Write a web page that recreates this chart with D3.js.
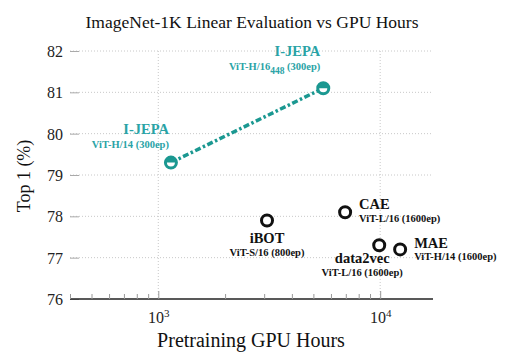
<!DOCTYPE html>
<html><head><meta charset="utf-8">
<script src="https://cdn.jsdelivr.net/npm/d3@7"></script>
<style>
body{margin:0;background:#fff;}
text{font-family:"Liberation Serif","Times New Roman",serif;}
</style></head>
<body><div id="chart"></div>
<script>
const methods = ["I-JEPA", "I-JEPA", "iBOT", "CAE", "data2vec", "MAE"];
const archs = ["ViT-H/14 (300ep)", "ViT-H/16|448| (300ep)", "ViT-S/16 (800ep)", "ViT-L/16 (1600ep)", "ViT-L/16 (1600ep)", "ViT-H/14 (1600ep)"];
const gpuHours = [1140, 5540, 3090, 6950, 9900, 12300];
const top1 = [79.3, 81.1, 77.9, 78.1, 77.3, 77.2];
const isOurs = [true, true, false, false, false, false];
const yTicks = [76, 77, 78, 79, 80, 81, 82];
const xMajor = [1000, 10000];
const xMinor = [400,500,600,700,800,900,2000,3000,4000,5000,6000,7000,8000,9000];

const W = 511, H = 360;
const teal = "#1b9891", tealText = "#2aa3a6";
const svg = d3.select("#chart").append("svg").attr("width", W).attr("height", H);

const x = d3.scaleLog().domain([400, 17300]).range([70, 433]);
const y = d3.scaleLinear().domain([76, 82]).range([299, 51]);

// grid
svg.append("g").selectAll("line").data(yTicks.slice(1)).join("line")
  .attr("x1", 70).attr("x2", 433).attr("y1", d => y(d)).attr("y2", d => y(d))
  .attr("stroke", "#c8c8c8").attr("stroke-width", 1).attr("stroke-dasharray", "1,2");
svg.append("g").selectAll("line").data(xMajor).join("line")
  .attr("x1", d => x(d)).attr("x2", d => x(d)).attr("y1", 51).attr("y2", 299)
  .attr("stroke", "#c8c8c8").attr("stroke-width", 1).attr("stroke-dasharray", "1,2");

// y axis
const yAxis = d3.axisLeft(y).tickValues(yTicks).tickSize(-9).tickPadding(7).tickFormat(d3.format("d"));
const gy = svg.append("g").attr("transform", "translate(70,0)").call(yAxis);
gy.select(".domain").remove();
gy.selectAll(".tick line").attr("stroke", "#aaa").attr("stroke-width", 1);
gy.selectAll(".tick text").attr("font-size", 16).attr("fill", "#222").attr("x", -7).attr("dy", "0.35em");

// x axis
const xAxisMajor = d3.axisBottom(x).tickValues(xMajor).tickSize(-8).tickPadding(10).tickFormat(() => "");
const gx = svg.append("g").attr("transform", "translate(0,299)").call(xAxisMajor);
gx.select(".domain").attr("stroke", "#222").attr("stroke-width", 1.3).attr("d", "M70,0H433");
gx.selectAll(".tick line").attr("stroke", "#999");
const xAxisMinor = d3.axisBottom(x).tickValues(xMinor).tickSize(-5).tickFormat(() => "");
const gxm = svg.append("g").attr("transform", "translate(0,299)").call(xAxisMinor);
gxm.select(".domain").remove();
gxm.selectAll(".tick line").attr("stroke", "#999");
gx.selectAll(".tick").each(function(d){
  const t = d3.select(this).append("text").attr("y", 24).attr("fill", "#222").attr("font-size", 16).attr("text-anchor", "middle");
  t.append("tspan").text("10");
  t.append("tspan").attr("dy", -6).attr("font-size", 11).text(Math.round(Math.log10(d)));
});

// title & labels
svg.append("text").attr("x", 252).attr("y", 28).attr("text-anchor", "middle").attr("font-size", 17.5).attr("fill", "#111")
  .text("ImageNet-1K Linear Evaluation vs GPU Hours");
svg.append("text").attr("x", 251).attr("y", 347).attr("text-anchor", "middle").attr("font-size", 20).attr("fill", "#111")
  .text("Pretraining GPU Hours");
svg.append("text").attr("transform", "translate(30,176) rotate(-90)").attr("text-anchor", "middle").attr("font-size", 18).attr("fill", "#111")
  .text("Top 1 (%)");

// I-JEPA line
const ours = gpuHours.map((g, i) => ({g, t: top1[i], i})).filter(d => isOurs[d.i]);
svg.append("path").datum(ours)
  .attr("d", d3.line().x(d => x(d.g)).y(d => y(d.t)))
  .attr("fill", "none").attr("stroke", teal).attr("stroke-width", 3.5).attr("stroke-dasharray", "6,2.5,2.5,2.5");

// markers
const pts = gpuHours.map((g, i) => ({g, t: top1[i], i}));
const r = 5.5;
pts.forEach(d => {
  const cx = x(d.g), cy = y(d.t);
  if (isOurs[d.i]) {
    svg.append("circle").attr("cx", cx).attr("cy", cy).attr("r", r).attr("fill", "#fff").attr("stroke", teal).attr("stroke-width", 3);
    svg.append("path").attr("d", `M${-r},0 A${r},${r} 0 0 1 ${r},0 Z`).attr("transform", `translate(${cx},${cy})`).attr("fill", teal);
  } else {
    svg.append("circle").attr("cx", cx).attr("cy", cy).attr("r", r).attr("fill", "#fff").attr("stroke", "#111").attr("stroke-width", 3);
  }
});

// annotations
const ann = [
  {dx: -2, dn: -29, ds: -15, anchor: "end"},
  {dx: -3, dn: -32, ds: -18, anchor: "end"},
  {dx: 0, dn: 23, ds: 36, anchor: "middle"},
  {dx: 14, dn: -3, ds: 10, anchor: "start"},
  {dx: -17, dn: 18, ds: 31, anchor: "middle"},
  {dx: 14, dn: -1, ds: 11, anchor: "start"}
];
pts.forEach(d => {
  const a = ann[d.i];
  const cx = x(d.g) + a.dx, cy = y(d.t);
  const col = isOurs[d.i] ? tealText : "#111";
  svg.append("text").attr("x", cx).attr("y", cy + a.dn).attr("text-anchor", a.anchor)
    .attr("font-size", 14.5).attr("font-weight", "bold").attr("fill", col).text(methods[d.i]);
  const t = svg.append("text").attr("x", cx).attr("y", cy + a.ds).attr("text-anchor", a.anchor)
    .attr("font-size", 10.5).attr("font-weight", "bold").attr("fill", col);
  const parts = archs[d.i].split("|");
  if (parts.length === 3) {
    t.append("tspan").text(parts[0]);
    t.append("tspan").attr("dy", 4).attr("font-size", 9.5).text(parts[1]);
    t.append("tspan").attr("dy", -4).text(parts[2]);
  } else t.text(parts[0]);
});
</script></body></html>
